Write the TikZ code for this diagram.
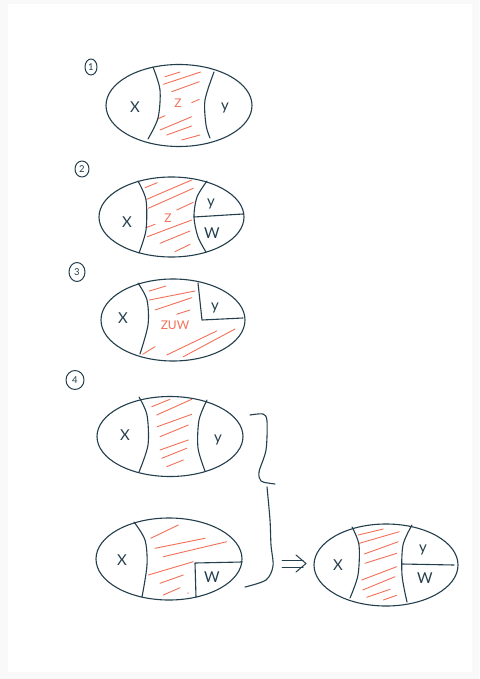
\documentclass[tikz,border=0pt]{standalone}
\usepackage{fontspec}
\setmainfont{Lato}
\definecolor{inkc}{HTML}{233E4C}
\definecolor{hatchc}{HTML}{F27158}
\definecolor{bgc}{HTML}{F9F9F9}
\begin{document}
\begin{tikzpicture}[x=1pt,y=-1pt,
  ink/.style={draw=inkc, line width=1.1pt, line cap=round, line join=round},
  hatch/.style={draw=hatchc, line width=0.9pt, line cap=round},
  lab/.style={text=inkc, font=\fontsize{15}{15}\selectfont, inner sep=0pt},
  rlab/.style={text=hatchc, font=\fontsize{12}{12}\selectfont, inner sep=0pt},
  num/.style={text=inkc, font=\fontsize{9.5}{9.5}\selectfont, inner sep=0pt}]
\useasboundingbox (0,0) rectangle (479,679);
\fill[bgc] (0,0) rectangle (479,679);
\fill[white] (8,4) rectangle (472,672);

% ---------- 1 ----------
\draw[ink, line width=1pt] (91,67) ellipse [x radius=6, y radius=8];
\node[num] (n1) at (91,67) {1};
\foreach \a/\b/\c/\d in {165/76.7/180/72, 163.3/84.3/200.7/72, 171.7/91.7/199.3/81.7,
  191.7/102.7/199.3/99.3, 157.3/119/165/115.7, 160/130/191.7/116.7,
  166.7/135/191.7/126, 181.7/140/200/135}
  \draw[hatch] (\a,\b) -- (\c,\d);
\draw[ink] (179,105.5) ellipse [x radius=73, y radius=41];
\draw[ink] plot[smooth] coordinates {(153,67) (160,90) (158,118) (148,139)};
\draw[ink] plot[smooth] coordinates {(214,72) (205,100) (206,125) (210,138)};
\node[lab] (x1) at (135,107) {X};
\node[lab] (y1) at (225,108) {y};
\node[rlab] (z1) at (178,103) {Z};

% ---------- 2 ----------
\draw[ink, line width=1pt] (82,169) ellipse [x radius=7, y radius=8];
\node[num] (n2) at (82,169) {2};
\foreach \a/\b/\c/\d in {145/187.7/157.3/182.7, 146.7/199.3/191.7/180, 148.3/208.3/193.3/188.3,
  176.7/210/193.3/202.3, 146/227.7/155/224.3, 147.3/236.7/191.7/220,
  160/243.3/190/231, 175/251.7/190/244.3}
  \draw[hatch] (\a,\b) -- (\c,\d);
\draw[ink] (171.5,217) ellipse [x radius=72.5, y radius=40];
\draw[ink] plot[smooth] coordinates {(138,181) (146,200) (146,230) (139,253)};
\draw[ink] plot[smooth] coordinates {(207,181) (197,197) (194,217) (198,237) (206,252)};
\draw[ink] (194,217) -- (243,214);
\node[lab] (x2) at (127,222) {X};
\node[lab] (y2) at (211,204) {y};
\node[lab] (w2) at (212,233) {W};
\node[rlab] (z2) at (168,218) {Z};

% ---------- 3 ----------
\draw[ink, line width=1pt] (77,272) ellipse [x radius=8, y radius=9.5];
\node[num] (n3) at (77,272) {3};
\foreach \a/\b/\c/\d in {149.3/291/166/286, 149.3/300/195/291, 155/310/191.7/297.7,
  176.7/314.3/190/310, 142.7/354.3/155/346.7, 166.7/355/216.7/331,
  183.3/356.7/235/329}
  \draw[hatch] (\a,\b) -- (\c,\d);
\draw[ink] (173,320) ellipse [x radius=72, y radius=41];
\draw[ink] plot[smooth] coordinates {(138,283) (147,300) (148,325) (140,354)};
\draw[ink] (198,283) -- (202,320) -- (243,318);
\node[lab] (x3) at (123,318) {X};
\node[lab] (y3) at (215,308) {y};
\node[rlab] (z3) at (175,325) {ZUW};

% ---------- 4 ----------
\draw[ink, line width=1pt] (75,380) ellipse [x radius=9, y radius=9.5];
\node[num] (n4) at (75,380) {4};
\foreach \a/\b/\c/\d in {151.7/406.7/170/399.3, 156.7/415/191.7/399.3, 157.3/426.7/191.7/414.3,
  160/436.7/188.3/425, 160/450/188.3/440, 161.7/458.3/186.7/448.3,
  166.7/466.7/183.3/460}
  \draw[hatch] (\a,\b) -- (\c,\d);
\draw[ink] (170,436.5) ellipse [x radius=73, y radius=40];
\draw[ink] plot[smooth] coordinates {(139,397) (147,415) (148,445) (139,472)};
\draw[ink] plot[smooth] coordinates {(207,400) (199,420) (198,448) (205,471)};
\node[lab] (x4) at (125,435) {X};
\node[lab] (y4) at (218,440) {y};

\foreach \a/\b/\c/\d in {150.7/538.3/178.3/525, 155/548.3/205/538.3, 163.3/556.7/226.7/541.7,
  148.3/575/193.3/561.7, 160/583.3/183.3/575, 163.3/595/180/587.7, 187.7/593.3/188.5/592.9}
  \draw[hatch] (\a,\b) -- (\c,\d);
\draw[ink] (169,559) ellipse [x radius=73, y radius=41];
\draw[ink] plot[smooth] coordinates {(134,522) (145,540) (147,565) (142,597)};
\draw[ink] (196,597) -- (195,563) -- (242,562);
\node[lab] (x5) at (122,560) {X};
\node[lab] (w5) at (212,577) {W};

% brace
\draw[ink] plot[smooth] coordinates {(250,415) (263,414) (267,421) (266,450) (259,472) (261,481) (268,483) (275,484)};
\draw[ink] plot[smooth] coordinates {(267,487) (270,520) (271,545) (273,566) (266,580) (245,587)};
% implies arrow
\draw[ink, line width=1pt] (282,560) -- (303,560);
\draw[ink, line width=1pt] (282,567) -- (303,567);
\draw[ink, line width=1pt] (296,555) -- (306,563.5) -- (296,572);

% ---------- result ----------
\foreach \a/\b/\c/\d in {358.3/535/383.3/529, 359.3/543.3/399.3/531.7, 364.3/554/398.3/541.7,
  365/563.3/396.7/553.3, 361.7/580/396.7/566.7, 362.7/590/395/576.7,
  366.7/597.3/390/589.3, 383.3/600/396.7/595.3}
  \draw[hatch] (\a,\b) -- (\c,\d);
\draw[ink] (386,565) ellipse [x radius=72, y radius=41];
\draw[ink] plot[smooth] coordinates {(352,527) (359,545) (358,575) (350,598)};
\draw[ink] plot[smooth] coordinates {(412,525) (403,545) (402,575) (407,602)};
\draw[ink] (402,564) -- (454,565);
\node[lab] (x6) at (338,565) {X};
\node[lab] (y6) at (423,550) {y};
\node[lab] (w6) at (425,578) {W};
\end{tikzpicture}
\end{document}
